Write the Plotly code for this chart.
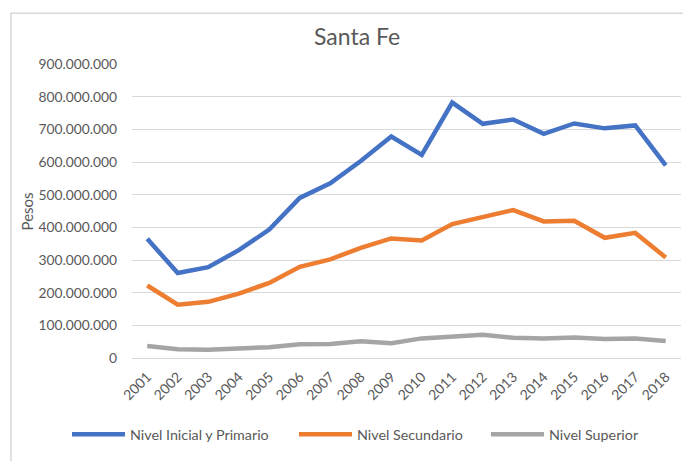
import plotly.graph_objects as go

years = [str(y) for y in range(2001, 2019)]
inicial_primario = [365e6, 260e6, 278e6, 330e6, 393e6, 490e6, 535e6, 603e6, 678e6, 622e6,
                    782e6, 717e6, 730e6, 686e6, 718e6, 703e6, 712e6, 590e6]
secundario = [222e6, 163e6, 172e6, 197e6, 230e6, 279e6, 302e6, 337e6, 366e6, 360e6,
              410e6, 430e6, 453e6, 418e6, 420e6, 368e6, 383e6, 308e6]
superior = [37e6, 27e6, 25e6, 30e6, 33e6, 42e6, 43e6, 51e6, 45e6, 60e6,
            67e6, 71e6, 62e6, 60e6, 63e6, 58e6, 60e6, 52e6]

series = [
    ("Nivel Inicial y Primario", inicial_primario, "#4472C4"),
    ("Nivel Secundario", secundario, "#ED7D31"),
    ("Nivel Superior", superior, "#A5A5A5"),
]

font_family = "Lato, 'Open Sans', sans-serif"
txt = "#595959"

legend_ids = ["legend", "legend2", "legend3"]
legend_x = [-0.1184, 0.2951, 0.6448]

fig = go.Figure()
for (name, vals, color), lid in zip(series, legend_ids):
    fig.add_trace(go.Scatter(x=years, y=vals, name=name, mode="lines", legend=lid,
                             line=dict(color=color, width=4.5)))

legend_common = dict(orientation="h", y=-0.26, yanchor="middle", xanchor="left",
                     font=dict(size=14.3, color=txt), itemwidth=53,
                     bgcolor="rgba(0,0,0,0)")

fig.update_layout(
    width=683, height=461,
    margin=dict(l=132, r=2, t=64, b=103, autoexpand=False),
    paper_bgcolor="white", plot_bgcolor="white",
    separators=",.",
    font=dict(family=font_family, size=14, color=txt),
    title=dict(text="Santa Fe", x=0.41, xanchor="center", y=0.92, yanchor="middle",
               xref="paper", yref="container",
               font=dict(size=23, color=txt, family=font_family)),
    showlegend=True,
    legend=dict(x=legend_x[0], **legend_common),
    legend2=dict(x=legend_x[1], **legend_common),
    legend3=dict(x=legend_x[2], **legend_common),
    xaxis=dict(type="category", range=[-0.5, 17.5], tickangle=-45, showgrid=False,
               showline=False, ticks="", automargin=False, ticklabelstandoff=7,
               tickfont=dict(size=14, color=txt)),
    yaxis=dict(range=[0, 900e6], dtick=100e6, tickformat=",d", showgrid=True,
               gridcolor="#D9D9D9", gridwidth=1.3, zeroline=True, zerolinecolor="#D9D9D9",
               zerolinewidth=1.3, ticks="", ticklabelstandoff=14, automargin=False,
               tickfont=dict(size=13.8, color=txt)),
    shapes=[dict(type="rect", xref="paper", yref="paper", x0=-0.2204, x1=1.2,
                 y0=-0.6, y1=1.173, line=dict(color="#D9D9D9", width=1.5),
                 fillcolor="rgba(0,0,0,0)", layer="below")],
    annotations=[dict(text="Pesos", xref="paper", yref="paper", x=-0.192, y=0.497,
                      textangle=-90, showarrow=False, xanchor="center", yanchor="middle",
                      font=dict(size=15, color=txt))],
)

fig.write_html("out.html", post_script="document.body.style.margin='0';",
               config={"displayModeBar": False})
